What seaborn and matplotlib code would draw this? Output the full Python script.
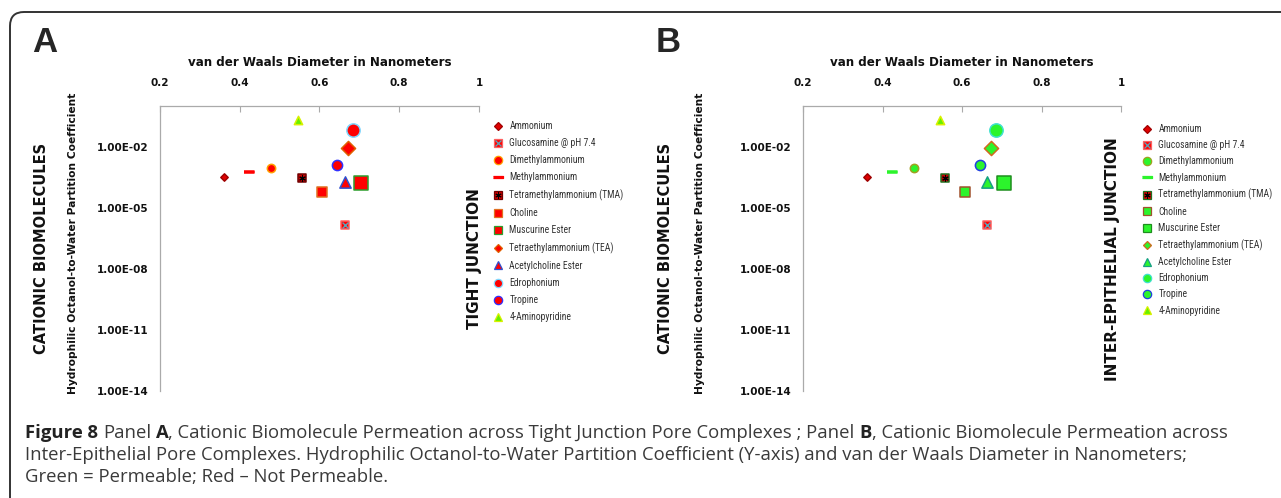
import matplotlib
matplotlib.use("Agg")
import matplotlib.pyplot as plt
import matplotlib.font_manager as fm
from matplotlib.lines import Line2D
from matplotlib.patches import FancyBboxPatch
from matplotlib.transforms import IdentityTransform
import seaborn as sns
import pandas as pd

# ---------------- data ----------------
compounds = ["Ammonium", "Glucosamine @ pH 7.4", "Dimethylammonium", "Methylammonium",
             "Tetramethylammonium (TMA)", "Choline", "Muscurine Ester",
             "Tetraethylammonium (TEA)", "Acetylcholine Ester", "Edrophonium",
             "Tropine", "4-Aminopyridine"]
diameter_nm = [0.36, 0.663, 0.478, 0.423, 0.556, 0.607, 0.705, 0.672, 0.663, 0.685, 0.645, 0.545]
partition_coef = [3.2e-4, 1.4e-6, 9.0e-4, 5.6e-4, 2.8e-4, 5.9e-5, 1.6e-4, 8.9e-3, 1.9e-4, 6.6e-2, 1.2e-3, 0.21]
# permeable flags per panel (True = green)
permeable_tight = [False] * 11 + [True]
permeable_inter = [False, False] + [True] * 10

x_ticks = [0.2, 0.4, 0.6, 0.8, 1.0]
x_ticklabels = ["0.2", "0.4", "0.6", "0.8", "1"]
y_ticks = [1e-14, 1e-11, 1e-8, 1e-5, 1e-2]
y_ticklabels = ["1.00E-14", "1.00E-11", "1.00E-08", "1.00E-05", "1.00E-02"]

# ---------------- styles ----------------
RED = "#FF0000"
GREEN = "#2CF42C"
D = [(-1, -0.3), (1, -0.3), (1, 0.3), (-1, 0.3)]  # dash marker
styles = {
    # name: marker, size(s), red edge, green edge, overlay marker
    "Ammonium": ("D", 14, "#A00000", "#A00000", None),
    "Glucosamine @ pH 7.4": ("s", 36, "#FF6060", "#FF6060", "x"),
    "Dimethylammonium": ("o", 36, "#FFA000", "#A0A020", None),
    "Methylammonium": (D, 45, "none", "none", None),
    "Tetramethylammonium (TMA)": ("s", 28, "#700000", "#207020", "asterisk"),
    "Choline": ("s", 44, "#E07020", "#A0522D", None),
    "Muscurine Ester": ("s", 92, "#2E9E2E", "#1E8E1E", None),
    "Tetraethylammonium (TEA)": ("D", 52, "#E06000", "#D2691E", None),
    "Acetylcholine Ester": ("^", 66, "#3050D0", "#16A085", None),
    "Edrophonium": ("o", 92, "#80D8FF", "#40E0D0", None),
    "Tropine": ("o", 54, "#3030FF", "#2040E0", None),
    "4-Aminopyridine": ("^", 36, "#C8F000", "#D8F000", None),
}
face_override = {"Ammonium": "#E00000", "Tetramethylammonium (TMA)": "#CC0000",
                 "4-Aminopyridine": "#66F000"}

# ---------------- fonts ----------------
sns.set_style("white")
names = {f.name for f in fm.fontManager.ttflist}
narrow = next((n for n in ["Liberation Sans Narrow", "Roboto Condensed", "Open Sans Condensed",
                           "DejaVu Sans Condensed"] if n in names), "DejaVu Sans")
cap_font = "Open Sans" if "Open Sans" in names else "DejaVu Sans"
plt.rcParams["font.family"] = ["DejaVu Sans"]

W, H = 1281, 498
fig = plt.figure(figsize=(W / 100, H / 100), dpi=100)

def px(x):
    return x / W

def py(y):
    return 1 - y / H

# frame
frame = FancyBboxPatch((10, -60), 1500, H - 12 + 60,
                       boxstyle="round,pad=0,rounding_size=14",
                       transform=IdentityTransform(), fill=False,
                       edgecolor="#333333", linewidth=1.4)
fig.patches.append(frame)

df = pd.DataFrame({"compound": compounds, "diameter": diameter_nm, "coef": partition_coef})

def draw_panel(left_px, right_px, perm, letter, letter_x, cat_x, ylab_x, junc_text, junc_x, leg_x, leg_y, leg_sp):
    ax = fig.add_axes([px(left_px), py(391), px(right_px - left_px), (391 - 106) / H])
    ax.set_xscale("linear")
    ax.set_yscale("log")
    ax.set_xlim(0.2, 1.0)
    ax.set_ylim(1e-14, 1.0)
    handles = []
    for i, row in df.iterrows():
        name = row["compound"]
        mk, s, e_red, e_green, over = styles[name]
        is_green = perm[i]
        face = GREEN if is_green else RED
        if name in face_override:
            face = face_override[name]
        edge = e_green if is_green else e_red
        if mk is D:
            edge = face
        sub = df.iloc[[i]]
        sns.scatterplot(data=sub, x="diameter", y="coef", ax=ax, marker=mk, s=s,
                        color=face, edgecolor=edge, linewidth=1.1, zorder=3, legend=False)
        msz = {"D": 4.2, "s": 5.6, "o": 6.0, "^": 6.0}.get(mk if isinstance(mk, str) else "", 6.5)
        h = Line2D([], [], marker=mk, linestyle="none", markersize=msz,
                   markerfacecolor=face, markeredgecolor=edge, markeredgewidth=0.9)
        if over == "x":
            ax.scatter(sub["diameter"], sub["coef"], marker="x", s=s * 0.5, c="#5BA3B8",
                       linewidths=1.0, zorder=4)
            h = (h, Line2D([], [], marker="x", linestyle="none", markersize=msz * 0.7,
                           markeredgecolor="#5BA3B8", markeredgewidth=0.9))
        elif over == "asterisk":
            ax.scatter(sub["diameter"], sub["coef"], marker=(6, 2, 0), s=s * 0.6, c="black",
                       linewidths=0.8, zorder=4)
            h = (h, Line2D([], [], marker=(6, 2, 0), linestyle="none", markersize=msz * 0.8,
                           markeredgecolor="black", markeredgewidth=0.7))
        handles.append(h)
    ax.set_xlabel("")
    ax.set_ylabel("")
    ax.xaxis.tick_top()
    ax.set_xticks(x_ticks)
    ax.set_xticklabels(x_ticklabels, fontsize=7.5, fontweight="bold", color="#111111")
    ax.set_yticks(y_ticks)
    ax.set_yticklabels(y_ticklabels, fontsize=7.5, fontweight="bold", color="#111111")
    ax.yaxis.set_minor_locator(matplotlib.ticker.NullLocator())
    ax.tick_params(axis="x", direction="in", length=4, width=0.8, color="#AAAAAA", pad=13)
    ax.tick_params(axis="y", direction="out", length=4, width=0.8, color="#AAAAAA", pad=4)
    for side in ["right", "bottom"]:
        ax.spines[side].set_visible(False)
    for side in ["top", "left"]:
        ax.spines[side].set_color("#AAAAAA")
        ax.spines[side].set_linewidth(0.9)
    ax.patch.set_alpha(0)

    leg = ax.legend(handles, compounds, loc="upper left",
                    bbox_to_anchor=(px(leg_x), py(leg_y)), bbox_transform=fig.transFigure,
                    frameon=False, borderpad=0, borderaxespad=0, handlelength=1.0,
                    handletextpad=0.7, labelspacing=leg_sp,
                    prop={"family": narrow, "size": 6.9})
    for t in leg.get_texts():
        t.set_color("#333333")

    cx = (left_px + right_px) / 2
    fig.text(px(letter_x), py(42), letter, ha="center", va="center", fontsize=25,
             fontweight="bold", family=["Liberation Sans", "DejaVu Sans"])
    fig.text(px(cx), py(63), "van der Waals Diameter in Nanometers", ha="center", va="center",
             fontsize=8.6, fontweight="bold", color="#111111")
    fig.text(px(cat_x), py(248), "CATIONIC BIOMOLECULES", rotation=90, ha="center", va="center",
             fontsize=10.5, fontweight="bold", color="#111111")
    fig.text(px(ylab_x), py(243), "Hydrophilic Octanol-to-Water Partition Coefficient", rotation=90,
             ha="center", va="center", fontsize=7.7, fontweight="bold", color="#111111")
    fig.text(px(junc_x), py(259), junc_text, rotation=90, ha="center", va="center",
             fontsize=11, fontweight="bold", color="#111111")
    return ax

draw_panel(160, 479, permeable_tight, "A", 45, 42, 73, "TIGHT JUNCTION", 474, 493, 121, 0.74)
draw_panel(803, 1121, permeable_inter, "B", 668, 665, 700, "INTER-EPITHELIAL JUNCTION", 1112, 1142, 124, 0.65)

# ---------------- caption ----------------
cap = fig.add_axes([0, 0, 1, 1])
cap.axis("off")
cap.set_zorder(-1)
CAPSIZE = 13.3
CAPCOL = "#3a3a3a"
gap = CAPSIZE * 0.26
pieces = [("Figure 8", "bold", 0), ("Panel", "normal", gap), ("A", "bold", gap),
          (", Cationic Biomolecule Permeation across Tight Junction Pore Complexes ; Panel", "normal", 0),
          ("B", "bold", gap), (", Cationic Biomolecule Permeation across", "normal", 0)]
prev = None
for txt, wt, g in pieces:
    if prev is None:
        prev = cap.text(px(25), py(438), txt, fontsize=CAPSIZE, fontweight=wt, family=cap_font,
                        color="#222222", ha="left", va="baseline", transform=fig.transFigure)
    else:
        prev = cap.annotate(txt, xy=(1, 0), xycoords=prev, xytext=(g, 0), textcoords="offset points",
                            fontsize=CAPSIZE, fontweight=wt, family=cap_font,
                            color="#222222" if wt == "bold" else CAPCOL, ha="left", va="bottom")
cap.text(px(25), py(460), "Inter-Epithelial Pore Complexes. Hydrophilic Octanol-to-Water Partition "
         "Coefficient (Y-axis) and van der Waals Diameter in Nanometers;", fontsize=CAPSIZE,
         family=cap_font, color=CAPCOL, ha="left", va="baseline", transform=fig.transFigure)
cap.text(px(25), py(482), "Green = Permeable; Red \u2013 Not Permeable.", fontsize=CAPSIZE,
         family=cap_font, color=CAPCOL, ha="left", va="baseline", transform=fig.transFigure)

fig.savefig("out.png", dpi=100)
